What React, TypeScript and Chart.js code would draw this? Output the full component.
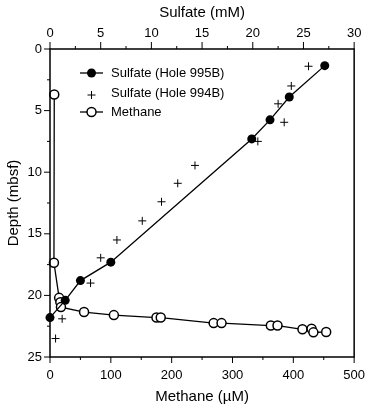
import React, { useEffect, useRef } from "react";
import { Chart, registerables } from "chart.js";

Chart.register(...registerables);

// Sulfate, Hole 995B (filled circles, line)
const sulfate995Depth = [1.35, 3.9, 5.75, 7.3, 17.3, 18.8, 20.4, 21.8];
const sulfate995Conc = [27.1, 23.6, 21.7, 19.9, 6.0, 3.0, 1.5, 0.0];

// Sulfate, Hole 994B (crosses)
const sulfate994Depth = [1.4, 3.0, 4.45, 5.95, 7.5, 9.45, 10.9, 12.4, 13.95, 15.5, 16.95, 19.0, 21.9, 23.5];
const sulfate994Conc = [25.5, 23.8, 22.5, 23.1, 20.5, 14.3, 12.6, 11.0, 9.1, 6.6, 5.0, 4.0, 1.2, 0.55];

// Methane (open circles, line)
const methaneDepth = [3.7, 17.35, 20.2, 20.55, 20.95, 21.35, 21.6, 21.8, 21.8, 22.25, 22.25, 22.45, 22.45, 22.75, 22.7, 23.0, 22.97];
const methaneConc = [7, 6.5, 15, 17, 18, 56, 105, 175, 182, 269, 282, 363, 374, 415, 430, 433, 454];

// Axes
const methaneRange = [0, 500];
const methaneMajor = 100;
const methaneMinor = 50;
const sulfateRange = [0, 30];
const sulfateMajor = 5;
const sulfateMinor = 2.5;
const depthRange = [0, 25];
const depthMajor = 5;
const depthMinor = 2.5;

const legendLabels = ["Sulfate (Hole 995B)", "Sulfate (Hole 994B)", "Methane"];

const FONT = "'Liberation Sans', Arial, Helvetica, sans-serif";

const pts = (xs: number[], ys: number[]) => xs.map((x, i) => ({ x, y: ys[i] }));

const isMajor = (v: number, step: number) => Math.abs(v / step - Math.round(v / step)) < 1e-6;

const framePlugin = {
  id: "frameTicks",
  afterDraw(chart: any) {
    const { ctx, chartArea: a } = chart;
    ctx.save();
    ctx.strokeStyle = "#000";
    ctx.lineWidth = 1;
    const drawTicks = (scale: any, major: number, side: string) => {
      scale.ticks.forEach((t: any) => {
        const len = isMajor(t.value, major) ? 6 : 3;
        const p = scale.getPixelForValue(t.value);
        ctx.beginPath();
        if (side === "bottom") {
          ctx.moveTo(p, a.bottom);
          ctx.lineTo(p, a.bottom + len);
        } else if (side === "top") {
          ctx.moveTo(p, a.top);
          ctx.lineTo(p, a.top - len - (isMajor(t.value, major) ? 1 : 0));
        } else {
          ctx.moveTo(a.left, p);
          ctx.lineTo(a.left - len, p);
        }
        ctx.stroke();
      });
    };
    drawTicks(chart.scales.xm, methaneMajor, "bottom");
    drawTicks(chart.scales.xs, sulfateMajor, "top");
    drawTicks(chart.scales.y, depthMajor, "left");
    ctx.lineWidth = 1.5;
    ctx.strokeRect(a.left, a.top, a.right - a.left, a.bottom - a.top);

    // legend
    const lx = a.left + 30;
    const rows = [a.top + 24, a.top + 44, a.top + 63];
    ctx.font = `13px ${FONT}`;
    ctx.fillStyle = "#000";
    ctx.textBaseline = "middle";
    ctx.textAlign = "left";
    rows.forEach((ry, i) => {
      ctx.strokeStyle = "#000";
      ctx.lineWidth = 1.3;
      if (i !== 1) {
        ctx.beginPath();
        ctx.moveTo(lx, ry);
        ctx.lineTo(lx + 23, ry);
        ctx.stroke();
      }
      const cx = lx + 11.5;
      if (i === 0) {
        ctx.beginPath();
        ctx.arc(cx, ry, 4.5, 0, Math.PI * 2);
        ctx.fillStyle = "#000";
        ctx.fill();
      } else if (i === 1) {
        ctx.lineWidth = 1;
        ctx.beginPath();
        ctx.moveTo(cx - 4, ry + 2);
        ctx.lineTo(cx + 4, ry + 2);
        ctx.moveTo(cx, ry - 2);
        ctx.lineTo(cx, ry + 6);
        ctx.stroke();
      } else {
        ctx.beginPath();
        ctx.arc(cx, ry, 4.5, 0, Math.PI * 2);
        ctx.fillStyle = "#fff";
        ctx.fill();
        ctx.lineWidth = 1.5;
        ctx.stroke();
      }
      ctx.fillStyle = "#000";
      ctx.fillText(legendLabels[i], lx + 31, ry);
    });
    ctx.restore();
  },
};

export default function App() {
  const ref = useRef<HTMLCanvasElement | null>(null);
  useEffect(() => {
    if (!ref.current) return;
    const tickFont = { family: FONT, size: 13 };
    const titleFont = { family: FONT, size: 15 };
    const chart = new Chart(ref.current, {
      type: "scatter",
      data: {
        datasets: [
          {
            label: legendLabels[0],
            data: pts(sulfate995Conc, sulfate995Depth),
            xAxisID: "xs",
            yAxisID: "y",
            showLine: true,
            borderColor: "#000",
            borderWidth: 1.3,
            pointRadius: 4.5,
            pointBorderWidth: 0,
            pointBackgroundColor: "#000",
            pointBorderColor: "#000",
            clip: false,
          },
          {
            label: legendLabels[1],
            data: pts(sulfate994Conc, sulfate994Depth),
            xAxisID: "xs",
            yAxisID: "y",
            showLine: false,
            pointStyle: "cross",
            pointRadius: 4,
            pointBorderWidth: 1,
            pointBorderColor: "#000",
            borderColor: "#000",
            clip: false,
          },
          {
            label: legendLabels[2],
            data: pts(methaneConc, methaneDepth),
            xAxisID: "xm",
            yAxisID: "y",
            showLine: true,
            borderColor: "#000",
            borderWidth: 1.3,
            pointRadius: 4.5,
            pointBorderWidth: 1.5,
            pointBackgroundColor: "#fff",
            pointBorderColor: "#000",
            clip: false,
          },
        ],
      },
      options: {
        animation: false,
        responsive: false,
        maintainAspectRatio: false,
        layout: { padding: { left: 0, right: 16, top: 0, bottom: 0 } },
        plugins: { legend: { display: false }, tooltip: { enabled: false } },
        scales: {
          xm: {
            type: "linear",
            position: "bottom",
            min: methaneRange[0],
            max: methaneRange[1],
            grid: { display: false, drawTicks: false },
            border: { display: false },
            ticks: {
              stepSize: methaneMinor,
              color: "#000",
              font: tickFont,
              padding: 11,
              maxRotation: 0,
              autoSkip: false,
              callback: (v: any) => (isMajor(Number(v), methaneMajor) ? String(v) : ""),
            },
            title: { display: true, text: "Methane (µM)", color: "#000", font: titleFont, padding: { top: 0, bottom: 7 } },
            afterFit: (s: any) => { s.height = 56; },
          },
          xs: {
            type: "linear",
            position: "top",
            min: sulfateRange[0],
            max: sulfateRange[1],
            grid: { display: false, drawTicks: false },
            border: { display: false },
            ticks: {
              stepSize: sulfateMinor,
              color: "#000",
              font: tickFont,
              padding: 8,
              maxRotation: 0,
              autoSkip: false,
              callback: (v: any) => (isMajor(Number(v), sulfateMajor) ? String(v) : ""),
            },
            title: { display: true, text: "Sulfate (mM)", color: "#000", font: titleFont, padding: { top: 4, bottom: 0 } },
            afterFit: (s: any) => { s.height = 49; },
          },
          y: {
            type: "linear",
            position: "left",
            reverse: true,
            min: depthRange[0],
            max: depthRange[1],
            grid: { display: false, drawTicks: false },
            border: { display: false },
            ticks: {
              stepSize: depthMinor,
              color: "#000",
              font: tickFont,
              padding: 8,
              autoSkip: false,
              callback: (v: any) => (isMajor(Number(v), depthMajor) ? String(v) : ""),
            },
            title: { display: true, text: "Depth (mbsf)", color: "#000", font: titleFont, padding: { top: 5, bottom: 0 } },
            afterFit: (s: any) => { s.width = 50; },
          },
        },
      },
      plugins: [framePlugin],
    } as any);
    return () => chart.destroy();
  }, []);
  return (
    <div style={{ position: "absolute", left: 0, top: 0, width: 376, height: 413, background: "#fff" }}>
      <canvas ref={ref} width={376} height={413} style={{ display: "block" }} />
    </div>
  );
}
